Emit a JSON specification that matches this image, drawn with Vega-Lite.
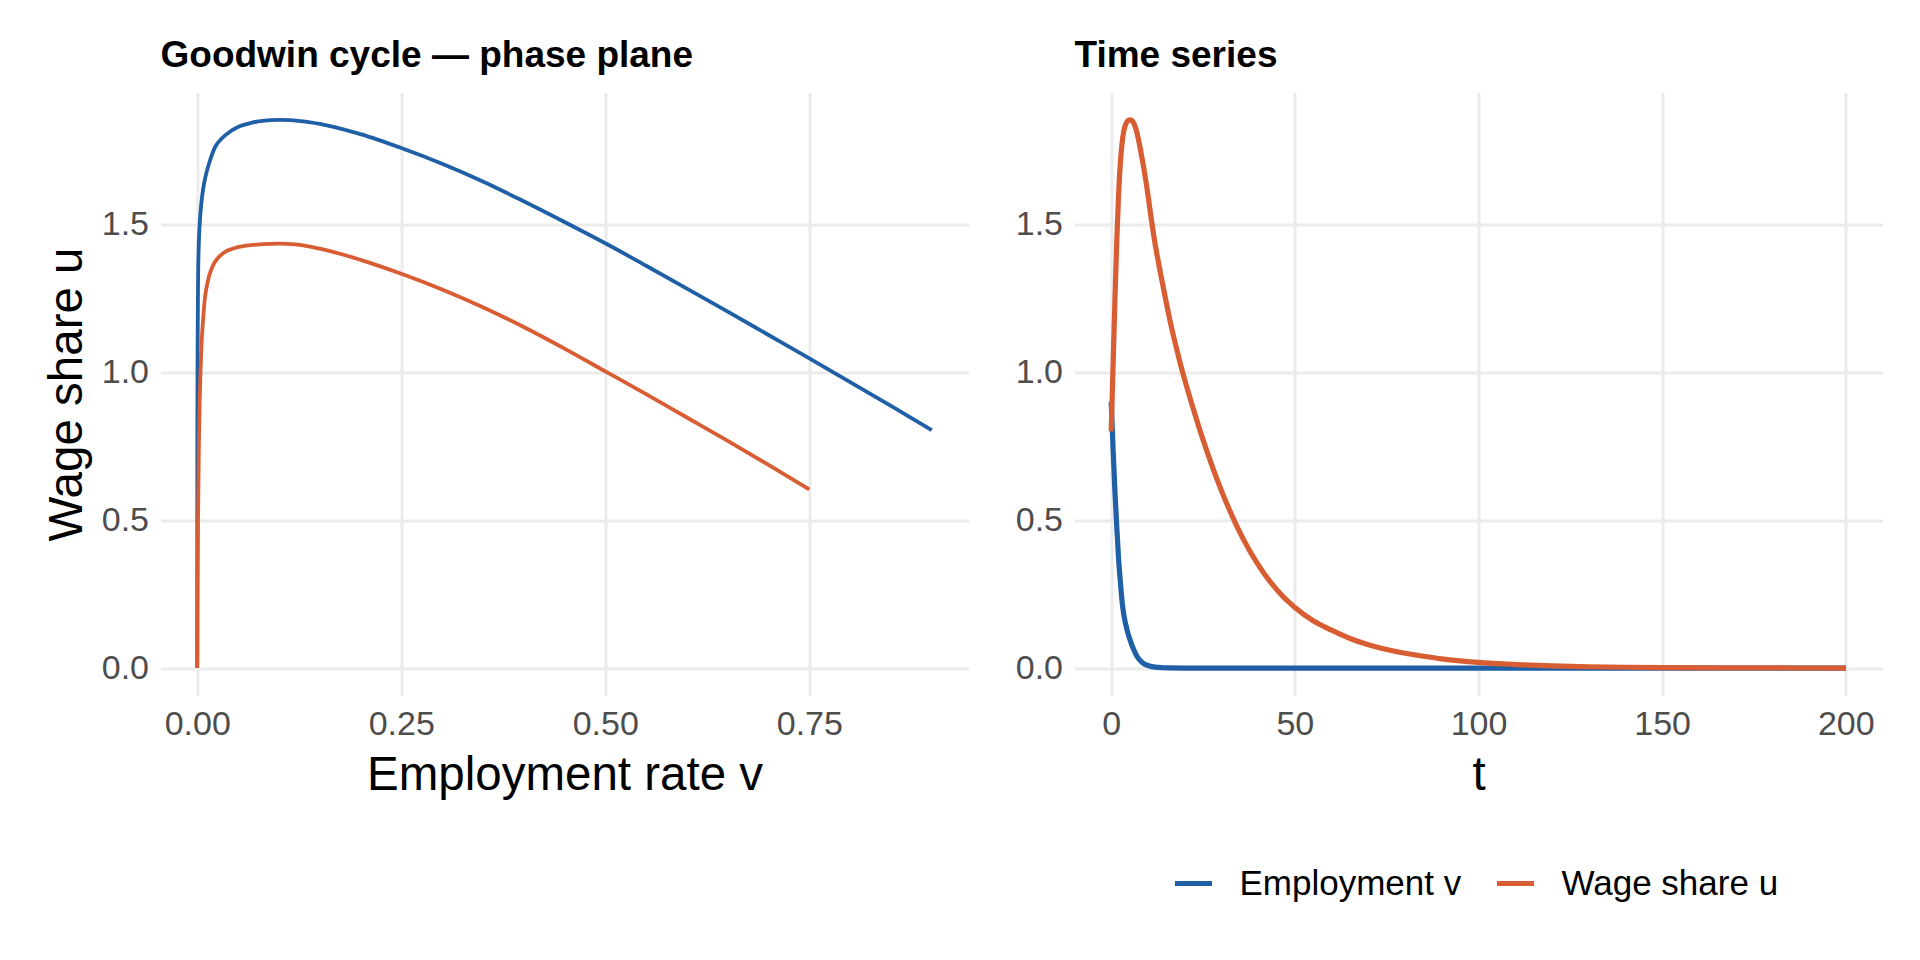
{
  "$schema": "https://vega.github.io/schema/vega-lite/v6.json",
  "background": "white",
  "padding": {"left": 42.5, "top": 36.5, "right": 5, "bottom": 5},
  "spacing": 46,
  "datasets": {
    "phase": [
      {"orbit": "A", "v": 0.9, "u": 0.804},
      {"orbit": "A", "v": 0.85, "u": 0.886},
      {"orbit": "A", "v": 0.8, "u": 0.967},
      {"orbit": "A", "v": 0.75, "u": 1.047},
      {"orbit": "A", "v": 0.7, "u": 1.126},
      {"orbit": "A", "v": 0.65, "u": 1.205},
      {"orbit": "A", "v": 0.6, "u": 1.283},
      {"orbit": "A", "v": 0.55, "u": 1.36},
      {"orbit": "A", "v": 0.5, "u": 1.436},
      {"orbit": "A", "v": 0.45, "u": 1.508},
      {"orbit": "A", "v": 0.4, "u": 1.578},
      {"orbit": "A", "v": 0.35, "u": 1.645},
      {"orbit": "A", "v": 0.3, "u": 1.705},
      {"orbit": "A", "v": 0.25, "u": 1.758},
      {"orbit": "A", "v": 0.2, "u": 1.805},
      {"orbit": "A", "v": 0.16, "u": 1.834},
      {"orbit": "A", "v": 0.13, "u": 1.848},
      {"orbit": "A", "v": 0.1, "u": 1.853},
      {"orbit": "A", "v": 0.08, "u": 1.85},
      {"orbit": "A", "v": 0.066, "u": 1.843},
      {"orbit": "A", "v": 0.05, "u": 1.829},
      {"orbit": "A", "v": 0.04, "u": 1.813},
      {"orbit": "A", "v": 0.03, "u": 1.79},
      {"orbit": "A", "v": 0.022, "u": 1.762},
      {"orbit": "A", "v": 0.015, "u": 1.71},
      {"orbit": "A", "v": 0.01, "u": 1.66},
      {"orbit": "A", "v": 0.007, "u": 1.615},
      {"orbit": "A", "v": 0.005, "u": 1.57},
      {"orbit": "A", "v": 0.003, "u": 1.5},
      {"orbit": "A", "v": 0.002, "u": 1.44},
      {"orbit": "A", "v": 0.001, "u": 1.3},
      {"orbit": "A", "v": 0.0005, "u": 1.1},
      {"orbit": "A", "v": 0.0002, "u": 0.85},
      {"orbit": "A", "v": 0.0001, "u": 0.6},
      {"orbit": "A", "v": 0.00003, "u": 0.3},
      {"orbit": "A", "v": 0.00001, "u": 0.08},
      {"orbit": "A", "v": 0, "u": 0.0001},
      {"orbit": "B", "v": 0.75, "u": 0.604},
      {"orbit": "B", "v": 0.7, "u": 0.687},
      {"orbit": "B", "v": 0.65, "u": 0.768},
      {"orbit": "B", "v": 0.6, "u": 0.847},
      {"orbit": "B", "v": 0.55, "u": 0.926},
      {"orbit": "B", "v": 0.5, "u": 1.003},
      {"orbit": "B", "v": 0.45, "u": 1.08},
      {"orbit": "B", "v": 0.4, "u": 1.153},
      {"orbit": "B", "v": 0.35, "u": 1.22},
      {"orbit": "B", "v": 0.3, "u": 1.28},
      {"orbit": "B", "v": 0.25, "u": 1.333},
      {"orbit": "B", "v": 0.2, "u": 1.38},
      {"orbit": "B", "v": 0.15, "u": 1.418},
      {"orbit": "B", "v": 0.12, "u": 1.432},
      {"orbit": "B", "v": 0.1, "u": 1.435},
      {"orbit": "B", "v": 0.08, "u": 1.433},
      {"orbit": "B", "v": 0.06, "u": 1.428},
      {"orbit": "B", "v": 0.045, "u": 1.419},
      {"orbit": "B", "v": 0.033, "u": 1.405},
      {"orbit": "B", "v": 0.025, "u": 1.385},
      {"orbit": "B", "v": 0.02, "u": 1.365},
      {"orbit": "B", "v": 0.015, "u": 1.33},
      {"orbit": "B", "v": 0.012, "u": 1.295},
      {"orbit": "B", "v": 0.009, "u": 1.24},
      {"orbit": "B", "v": 0.007, "u": 1.17},
      {"orbit": "B", "v": 0.005, "u": 1.08},
      {"orbit": "B", "v": 0.004, "u": 1.0},
      {"orbit": "B", "v": 0.003, "u": 0.9},
      {"orbit": "B", "v": 0.002, "u": 0.75},
      {"orbit": "B", "v": 0.001, "u": 0.5},
      {"orbit": "B", "v": 0.0005, "u": 0.3},
      {"orbit": "B", "v": 0.0002, "u": 0.12},
      {"orbit": "B", "v": 0.00005, "u": 0.02},
      {"orbit": "B", "v": 0, "u": 0.0001}
    ],
    "series": [
      {"series": "Employment v", "t": 0, "value": 0.9},
      {"series": "Employment v", "t": 0.5, "value": 0.74},
      {"series": "Employment v", "t": 1, "value": 0.6},
      {"series": "Employment v", "t": 1.5, "value": 0.48},
      {"series": "Employment v", "t": 2, "value": 0.37},
      {"series": "Employment v", "t": 2.5, "value": 0.29},
      {"series": "Employment v", "t": 3, "value": 0.22},
      {"series": "Employment v", "t": 3.5, "value": 0.175},
      {"series": "Employment v", "t": 4, "value": 0.145},
      {"series": "Employment v", "t": 4.5, "value": 0.12},
      {"series": "Employment v", "t": 5, "value": 0.1},
      {"series": "Employment v", "t": 5.5, "value": 0.082},
      {"series": "Employment v", "t": 6, "value": 0.066},
      {"series": "Employment v", "t": 7, "value": 0.04},
      {"series": "Employment v", "t": 8, "value": 0.024},
      {"series": "Employment v", "t": 9, "value": 0.014},
      {"series": "Employment v", "t": 10, "value": 0.0085},
      {"series": "Employment v", "t": 11, "value": 0.005},
      {"series": "Employment v", "t": 12, "value": 0.003},
      {"series": "Employment v", "t": 14, "value": 0.0012},
      {"series": "Employment v", "t": 16, "value": 0.0005},
      {"series": "Employment v", "t": 20, "value": 0.0001},
      {"series": "Employment v", "t": 30, "value": 0},
      {"series": "Employment v", "t": 50, "value": 0},
      {"series": "Employment v", "t": 100, "value": 0},
      {"series": "Employment v", "t": 150, "value": 0},
      {"series": "Employment v", "t": 200, "value": 0},
      {"series": "Wage share u", "t": 0, "value": 0.8},
      {"series": "Wage share u", "t": 0.5, "value": 1.02},
      {"series": "Wage share u", "t": 1, "value": 1.24},
      {"series": "Wage share u", "t": 1.5, "value": 1.44},
      {"series": "Wage share u", "t": 2, "value": 1.6},
      {"series": "Wage share u", "t": 2.5, "value": 1.71},
      {"series": "Wage share u", "t": 3, "value": 1.78},
      {"series": "Wage share u", "t": 3.5, "value": 1.82},
      {"series": "Wage share u", "t": 4, "value": 1.84},
      {"series": "Wage share u", "t": 4.5, "value": 1.85},
      {"series": "Wage share u", "t": 5, "value": 1.853},
      {"series": "Wage share u", "t": 5.5, "value": 1.852},
      {"series": "Wage share u", "t": 6, "value": 1.845},
      {"series": "Wage share u", "t": 7, "value": 1.81},
      {"series": "Wage share u", "t": 8, "value": 1.75},
      {"series": "Wage share u", "t": 9, "value": 1.68},
      {"series": "Wage share u", "t": 10, "value": 1.6},
      {"series": "Wage share u", "t": 11, "value": 1.51},
      {"series": "Wage share u", "t": 12, "value": 1.43},
      {"series": "Wage share u", "t": 13, "value": 1.362},
      {"series": "Wage share u", "t": 14, "value": 1.298},
      {"series": "Wage share u", "t": 15, "value": 1.235},
      {"series": "Wage share u", "t": 16, "value": 1.175},
      {"series": "Wage share u", "t": 17, "value": 1.12},
      {"series": "Wage share u", "t": 18, "value": 1.07},
      {"series": "Wage share u", "t": 19, "value": 1.02},
      {"series": "Wage share u", "t": 20, "value": 0.975},
      {"series": "Wage share u", "t": 22, "value": 0.89},
      {"series": "Wage share u", "t": 24, "value": 0.81},
      {"series": "Wage share u", "t": 26, "value": 0.735},
      {"series": "Wage share u", "t": 28, "value": 0.665},
      {"series": "Wage share u", "t": 30, "value": 0.6},
      {"series": "Wage share u", "t": 32, "value": 0.54},
      {"series": "Wage share u", "t": 34, "value": 0.485},
      {"series": "Wage share u", "t": 36, "value": 0.435},
      {"series": "Wage share u", "t": 38, "value": 0.39},
      {"series": "Wage share u", "t": 40, "value": 0.35},
      {"series": "Wage share u", "t": 42, "value": 0.313},
      {"series": "Wage share u", "t": 44, "value": 0.281},
      {"series": "Wage share u", "t": 46, "value": 0.252},
      {"series": "Wage share u", "t": 48, "value": 0.227},
      {"series": "Wage share u", "t": 50, "value": 0.205},
      {"series": "Wage share u", "t": 55, "value": 0.16},
      {"series": "Wage share u", "t": 60, "value": 0.128},
      {"series": "Wage share u", "t": 65, "value": 0.1},
      {"series": "Wage share u", "t": 70, "value": 0.079},
      {"series": "Wage share u", "t": 75, "value": 0.063},
      {"series": "Wage share u", "t": 80, "value": 0.05},
      {"series": "Wage share u", "t": 85, "value": 0.04},
      {"series": "Wage share u", "t": 90, "value": 0.031},
      {"series": "Wage share u", "t": 100, "value": 0.019},
      {"series": "Wage share u", "t": 110, "value": 0.012},
      {"series": "Wage share u", "t": 120, "value": 0.0073},
      {"series": "Wage share u", "t": 130, "value": 0.0045},
      {"series": "Wage share u", "t": 140, "value": 0.0028},
      {"series": "Wage share u", "t": 150, "value": 0.0017},
      {"series": "Wage share u", "t": 165, "value": 0.0008},
      {"series": "Wage share u", "t": 180, "value": 0.0004},
      {"series": "Wage share u", "t": 200, "value": 0.00015}
    ]
  },
  "hconcat": [
    {
      "title": "Goodwin cycle — phase plane",
      "width": 808,
      "height": 603,
      "data": {"name": "phase"},
      "mark": {"type": "line", "strokeWidth": 3.8, "interpolate": "monotone"},
      "encoding": {
        "x": {
          "field": "v",
          "type": "quantitative",
          "scale": {"domain": [-0.045, 0.945], "nice": false, "zero": false},
          "axis": {"title": "Employment rate v", "values": [0, 0.25, 0.5, 0.75], "format": ".2f"}
        },
        "y": {
          "field": "u",
          "type": "quantitative",
          "scale": {"domain": [-0.0927, 1.9457], "nice": false, "zero": false},
          "axis": {"title": "Wage share u", "values": [0, 0.5, 1, 1.5], "format": ".1f"}
        },
        "color": {
          "field": "orbit",
          "type": "nominal",
          "scale": {"domain": ["A", "B"], "range": ["#1f5fa6", "#d95d32"]},
          "legend": null
        }
      }
    },
    {
      "title": "Time series",
      "width": 808,
      "height": 603,
      "data": {"name": "series"},
      "mark": {"type": "line", "strokeWidth": 5.2, "interpolate": "monotone"},
      "encoding": {
        "x": {
          "field": "t",
          "type": "quantitative",
          "scale": {"domain": [-10, 210], "nice": false, "zero": false},
          "axis": {"title": "t", "values": [0, 50, 100, 150, 200], "format": "d"}
        },
        "y": {
          "field": "value",
          "type": "quantitative",
          "scale": {"domain": [-0.0927, 1.9457], "nice": false, "zero": false},
          "axis": {"title": null, "values": [0, 0.5, 1, 1.5], "format": ".1f"}
        },
        "color": {
          "field": "series",
          "type": "nominal",
          "scale": {"domain": ["Employment v", "Wage share u"], "range": ["#1f5fa6", "#d95d32"]},
          "legend": {
            "orient": "none",
            "legendX": 98,
            "legendY": 770,
            "direction": "horizontal",
            "title": null,
            "symbolType": "stroke",
            "symbolStrokeWidth": 5,
            "symbolSize": 1369,
            "labelFontSize": 35,
            "labelFont": "Liberation Sans",
            "labelColor": "black",
            "labelLimit": 0,
            "labelOffset": 25,
            "columnPadding": 25
          }
        }
      }
    }
  ],
  "resolve": {"scale": {"color": "independent"}, "legend": {"color": "independent"}},
  "config": {
    "font": "Liberation Sans",
    "view": {"stroke": null},
    "axis": {
      "domain": false,
      "ticks": false,
      "tickSize": 0,
      "grid": true,
      "gridColor": "#ebebeb",
      "gridWidth": 3,
      "labelFont": "Liberation Sans",
      "labelFontSize": 34,
      "labelColor": "#4d4d4d",
      "labelPadding": 12,
      "titleFont": "Liberation Sans",
      "titleFontSize": 47.5,
      "titleFontWeight": "normal",
      "titleColor": "black",
      "titlePadding": 10
    },
    "title": {
      "anchor": "start",
      "frame": "group",
      "font": "Liberation Sans",
      "fontSize": 37,
      "fontWeight": "bold",
      "color": "black",
      "offset": 18
    }
  }
}
